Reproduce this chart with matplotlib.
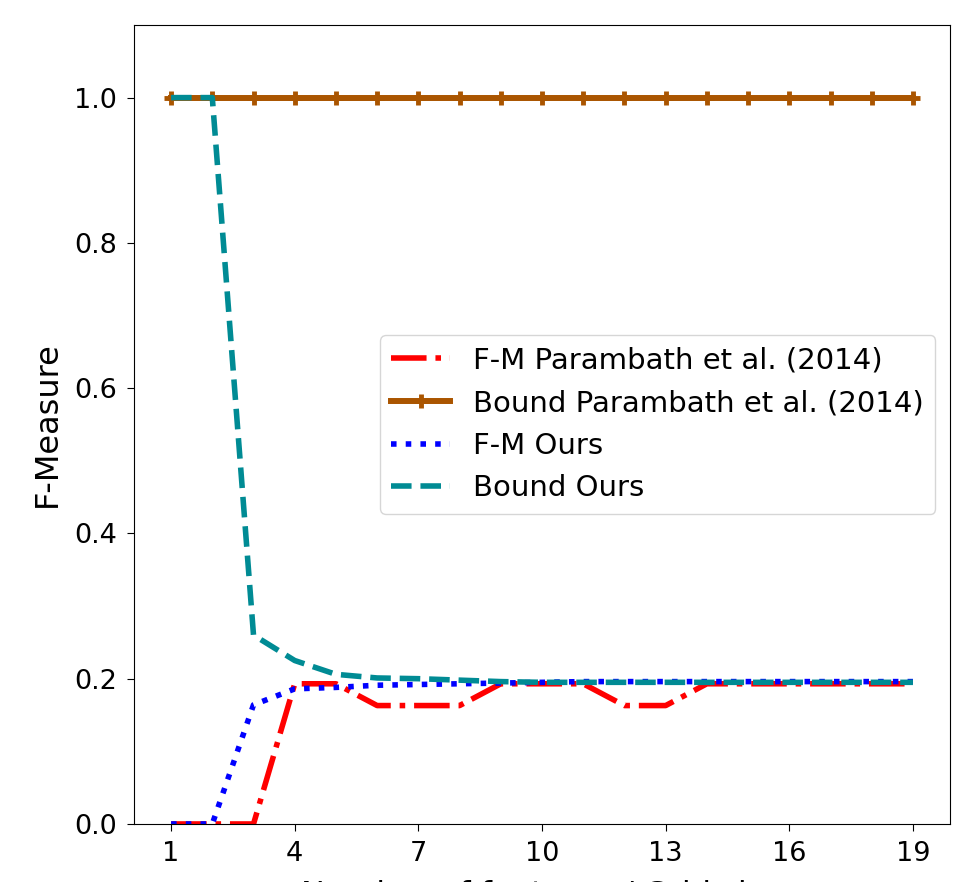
import matplotlib
matplotlib.use("Agg")
from matplotlib import pyplot as plt
import numpy as np

# x values: number of features / grid size
x = np.arange(1, 20)

fm_parambath = [0.0, 0.0, 0.0, 0.193, 0.193, 0.163, 0.163, 0.163, 0.193, 0.193,
                0.193, 0.163, 0.163, 0.193, 0.193, 0.193, 0.193, 0.193, 0.193]
bound_parambath = [1.0] * 19
fm_ours = [0.0, 0.0, 0.164, 0.186, 0.188, 0.191, 0.192, 0.193, 0.194, 0.195,
           0.196, 0.196, 0.196, 0.196, 0.196, 0.196, 0.196, 0.196, 0.196]
bound_ours = [1.0, 1.0, 0.26, 0.225, 0.206, 0.201, 0.2, 0.198, 0.196, 0.195,
              0.195, 0.195, 0.195, 0.195, 0.195, 0.195, 0.195, 0.195, 0.195]

xticks = [1, 4, 7, 10, 13, 16, 19]
yticks = [0.0, 0.2, 0.4, 0.6, 0.8, 1.0]

fig = plt.figure(figsize=(9.55, 8.82), dpi=100)
ax = fig.add_axes([0.1403, 0.0658, 0.8545, 0.9059])

ax.plot(x, fm_parambath, color="red", linestyle="-.", linewidth=4,
        label="F-M Parambath et al. (2014)")
ax.plot(x, bound_parambath, color="#aa5500", linestyle="-", linewidth=4.3,
        marker="+", markersize=10, markeredgewidth=3.5,
        label="Bound Parambath et al. (2014)")
ax.plot(x, fm_ours, color="blue", linestyle=":", linewidth=4,
        label="F-M Ours")
ax.plot(x, bound_ours, color="#008b94", linestyle="--", linewidth=4,
        label="Bound Ours")

ax.set_ylim(0, 1.1)
ax.set_xticks(xticks)
ax.set_yticks(yticks)
ax.tick_params(labelsize=19.5, length=5, pad=7)
ax.set_ylabel("F-Measure", fontsize=23, labelpad=8)
ax.set_xlabel("Number of features / Grid size", fontsize=23, labelpad=9)

ax.legend(loc="center right", fontsize=21)

plt.savefig("out.png", dpi=100)
